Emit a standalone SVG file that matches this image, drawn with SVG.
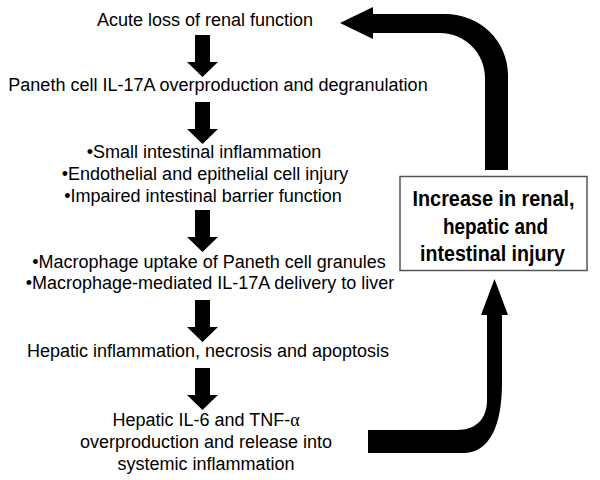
<svg xmlns="http://www.w3.org/2000/svg" width="600" height="480" viewBox="0 0 600 480">
<style>
.t{font-family:"Liberation Sans",Arial,sans-serif;font-size:18px;fill:#000;text-anchor:middle}
.b{font-family:"Liberation Sans Narrow","Arial Narrow","Liberation Sans",Arial,sans-serif;font-size:22px;font-weight:bold;fill:#000;text-anchor:middle}
.a{fill:#000}
</style>
<defs>
<path id="down" d="M-7.5,0 L7.5,0 L7.5,27 L15.5,27 L0,42 L-15.5,27 L-7.5,27 Z"/>
</defs>
<rect width="600" height="480" fill="#fff"/>
<g id="n1"><text class="t" x="205" y="26">Acute loss of renal function</text></g>
<g id="n2"><text class="t" x="218" y="91">Paneth cell IL-17A overproduction and degranulation</text></g>
<g id="n3">
<text class="t" x="204" y="158">•Small intestinal inflammation</text>
<text class="t" x="205" y="180">•Endothelial and epithelial cell injury</text>
<text class="t" x="203" y="202">•Impaired intestinal barrier function</text>
</g>
<g id="n4">
<text class="t" x="209" y="268">•Macrophage uptake of Paneth cell granules</text>
<text class="t" x="210" y="289">•Macrophage-mediated IL-17A delivery to liver</text>
</g>
<g id="n5"><text class="t" x="208" y="357">Hepatic inflammation, necrosis and apoptosis</text></g>
<g id="n6">
<text class="t" x="206" y="426">Hepatic IL-6 and TNF-<tspan font-family="'Liberation Serif',serif">α</tspan></text>
<text class="t" x="206" y="448">overproduction and release into</text>
<text class="t" x="206" y="470">systemic inflammation</text>
</g>
<g id="n7">
<rect x="400" y="176.5" width="187" height="94" fill="#fff" stroke="#555" stroke-width="1.5"/>
<text class="b" x="493.5" y="206" textLength="162" lengthAdjust="spacingAndGlyphs">Increase in renal,</text>
<text class="b" x="495.5" y="234" textLength="105" lengthAdjust="spacingAndGlyphs">hepatic and</text>
<text class="b" x="492.5" y="261" textLength="145" lengthAdjust="spacingAndGlyphs">intestinal injury</text>
</g>
<g id="connectors">
<use href="#down" x="202.5" y="35" class="a"/>
<use href="#down" x="202.5" y="102" class="a"/>
<use href="#down" x="202.5" y="210" class="a"/>
<use href="#down" x="202.5" y="300" class="a"/>
<use href="#down" x="202.5" y="368" class="a"/>
<path class="a" d="M485,170 L485,78 C485,53 465,33 440,33 L373,33 L373,39 L340,23 L373,7 L373,14 L445,14 C480,14 508,41 508,75 L508,170 Z"/>
<path class="a" d="M368,430 L457,430 C477,430 487,418 487,400 L487,315 L481,315 L494.5,279 L508,315 L502,315 L502,383 C502,425 490,453 463,453 L368,453 Z"/>
</g>
</svg>
